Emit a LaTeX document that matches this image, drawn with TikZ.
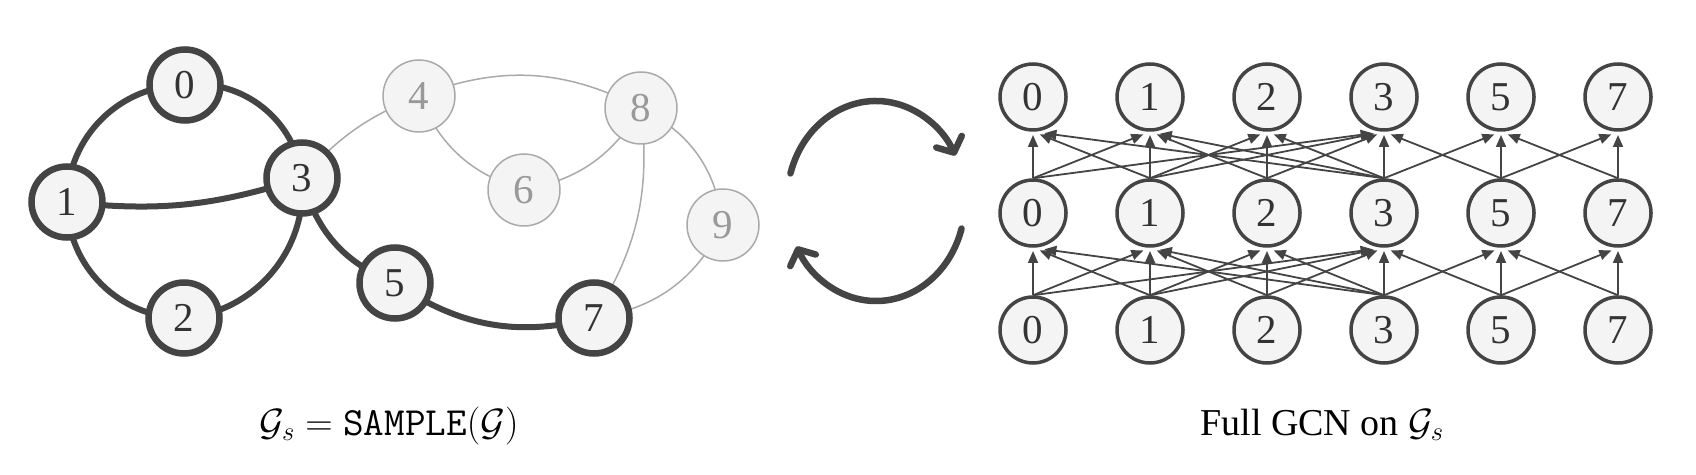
\RequirePackage{fix-cm}
\documentclass[tikz,border=0pt]{standalone}
\usepackage{fontspec}
\setmainfont{Liberation Serif}
\usetikzlibrary{arrows.meta,backgrounds}
\definecolor{dk}{HTML}{444444}
\definecolor{dktext}{HTML}{333333}
\definecolor{lt}{HTML}{AAAAAA}
\definecolor{lttext}{HTML}{999999}
\definecolor{bg}{HTML}{F4F4F4}
\tikzset{
  digit/.style={font=\fontsize{41}{41}\selectfont},
  darknode/.style={circle, digit, draw=dk, fill=bg, line width=6.5pt, minimum size=71pt, inner sep=0pt, text=dktext},
  lightnode/.style={circle, digit, draw=lt, fill=bg, line width=1.5pt, minimum size=72pt, inner sep=0pt, text=lttext},
  gcnnode/.style={circle, digit, draw=dk, fill=bg, line width=3.5pt, minimum size=66pt, inner sep=0pt, text=dktext},
  darkedge/.style={draw=dk, line width=6pt},
  lightedge/.style={draw=lt, line width=1.5pt},
  gcnedge/.style={draw=dk, line width=1.8pt, -{Triangle[length=12pt,width=10pt]}},
  cyclearrow/.style={draw=dk, line width=6.5pt, line cap=round, -{Straight Barb[length=12pt,width=28pt,round]}},
  caption/.style={font=\fontsize{38}{40}\selectfont, anchor=base, text=black}
}
\begin{document}
\begin{tikzpicture}[x=1pt,y=1pt]
\useasboundingbox (0,0) rectangle (1696,474);
% ---- left: sampled graph ----
\node[lightnode] (g4) at (419,378) {4};
\node[lightnode] (g8) at (641,366) {8};
\node[lightnode] (g6) at (524,284) {6};
\node[lightnode] (g9) at (723,249) {9};
\node[darknode] (g0) at (185,389) {0};
\node[darknode] (g1) at (67,272) {1};
\node[darknode] (g3) at (302,296) {3};
\node[darknode] (g2) at (184,156) {2};
\node[darknode] (g5) at (395,191) {5};
\node[darknode] (g7) at (594,156) {7};
\begin{scope}[on background layer]
\draw[lightedge] (g3.center) to[bend left=13] (g4.center);
\draw[lightedge] (g4.center) to[bend left=24] (g8.center);
\draw[lightedge] (g4.center) to[bend right=25] (g6.center);
\draw[lightedge] (g6.center) to[bend right=24] (g8.center);
\draw[lightedge] (g8.center) to[bend left=19] (g7.center);
\draw[lightedge] (g8.center) to[bend left=28] (g9.center);
\draw[lightedge] (g9.center) to[bend left=27] (g7.center);
\draw[darkedge] (g1.center) to[bend left=45] (g0.center);
\draw[darkedge] (g0.center) to[bend left=45] (g3.center);
\draw[darkedge] (g3.center) to[bend left=45] (g2.center);
\draw[darkedge] (g2.center) to[bend left=45] (g1.center);
\draw[darkedge] (g1.center) to[bend right=12] (g3.center);
\draw[darkedge] (g3.center) to[bend right=27] (g5.center);
\draw[darkedge] (g5.center) to[bend right=24] (g7.center);
\end{scope}
\node[caption] (capL) at (389,39) {$\mathcal{G}_s = \texttt{\fontsize{40}{40}\selectfont SAMPLE}(\mathcal{G})$};
% ---- middle: cycle arrows ----
\coordinate (cc) at (876,273);
\draw[cyclearrow] (cc) ++(164:89 and 100) arc[start angle=164, end angle=27, x radius=89, y radius=100];
\draw[cyclearrow] (cc) ++(-16:89 and 100) arc[start angle=-16, end angle=-153, x radius=89, y radius=100];
% ---- right: full GCN ----
\foreach \r/\y in {1/144,2/261,3/377}{
  \foreach \c/\lab in {0/0,1/1,2/2,3/3,4/5,5/7}{
    \node[gcnnode] (n\r-\c) at (1033+117*\c,\y) {\lab};
  }
}
\foreach \r/\nx in {1/2,2/3}{
  \foreach \a/\b/\s in {0/0/3.25,1/1/3.25,2/2/3.25,3/3/3.25,4/4/3.25,5/5/3.25,
      0/1/7.2,1/0/7.2,1/2/7.2,2/1/7.2,2/3/7.2,3/2/7.2,3/4/7.2,4/3/7.2,4/5/7.2,5/4/7.2,
      1/3/10,3/1/10,0/3/11.5,3/0/11.5}{
    \draw[gcnedge, shorten >=\s pt] (n\r-\a.north) -- (n\nx-\b.south);
  }
}
\node[caption] (capR) at (1322,39) {Full GCN on $\mathcal{G}_s$};
\end{tikzpicture}
\end{document}
